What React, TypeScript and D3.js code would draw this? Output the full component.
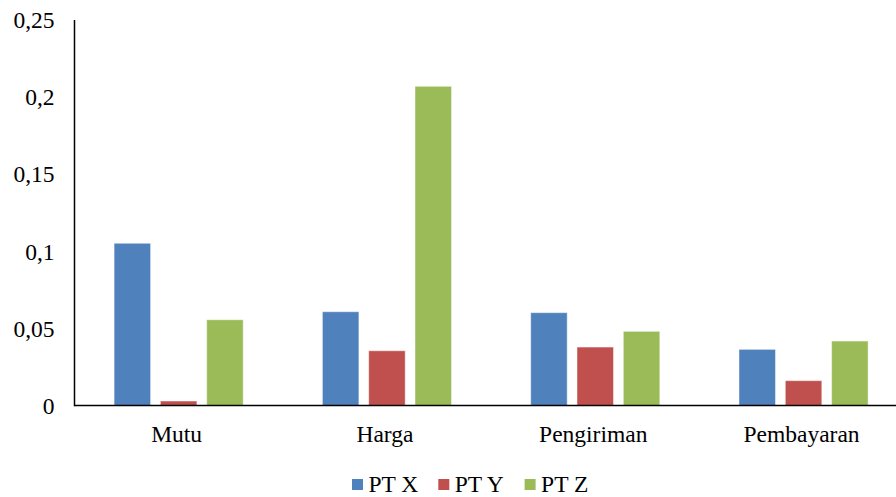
import React from "react";
import * as d3 from "d3";

const categories = ["Mutu", "Harga", "Pengiriman", "Pembayaran"];
const seriesNames = ["PT X", "PT Y", "PT Z"];
const ptX = [0.1052, 0.0608, 0.0602, 0.0364];
const ptY = [0.0029, 0.0355, 0.0379, 0.0161];
const ptZ = [0.0556, 0.207, 0.0481, 0.0418];
const yTicks = [0, 0.05, 0.1, 0.15, 0.2, 0.25];
const colors = ["#4F81BD", "#C0504D", "#9BBB59"];

const W = 896;
const H = 497;
const FONT = "Liberation Serif, Times New Roman, serif";
const FS = 23.5;

export default function App() {
  const values = [ptX, ptY, ptZ];
  const left = 74.5;
  const step = 208.3;
  const x0 = d3.scaleBand<string>().domain(categories).range([left, left + step * categories.length]).padding(0);
  const y = d3.scaleLinear().domain([0, 0.25]).range([405.5, 20]);
  const bw = x0.bandwidth();
  const groupW = 129.1;
  const x1 = d3
    .scaleBand<string>()
    .domain(seriesNames)
    .range([(bw - groupW) / 2, (bw + groupW) / 2])
    .paddingInner(0.212)
    .paddingOuter(0);
  const fmt = (v: number) => (v === 0 ? "0" : String(v).replace(".", ","));

  return (
    <svg width={W} height={H} style={{ position: "absolute", left: 0, top: 0, fontFamily: FONT }}>
      <rect width={W} height={H} fill="#fff" />
      {categories.map((c, ci) => (
        <g key={c} transform={`translate(${x0(c)},0)`}>
          {seriesNames.map((s, si) => {
            const v = values[si][ci];
            return (
              <rect
                key={s}
                x={x1(s)}
                y={y(v)}
                width={x1.bandwidth()}
                height={y(0) - y(v)}
                fill={colors[si]}
                stroke="#fff"
                strokeOpacity={0.45}
                strokeWidth={1}
              />
            );
          })}
          <text x={bw / 2 - 2} y={442} textAnchor="middle" fontSize={FS} fill="#000">
            {c}
          </text>
        </g>
      ))}
      <line x1={left} x2={W} y1={y(0)} y2={y(0)} stroke="#000" strokeWidth={1.5} />
      <line x1={left} x2={left} y1={y(0.25)} y2={y(0) + 0.75} stroke="#000" strokeWidth={1.5} />
      {yTicks.map((t) => (
        <text key={t} x={54.5} y={y(t)} dy="0.35em" textAnchor="end" fontSize={FS} fill="#000">
          {fmt(t)}
        </text>
      ))}
      {seriesNames.map((s, i) => (
        <g key={s} transform={`translate(${352 + i * 86.3},0)`}>
          <rect x={0} y={479} width={11} height={11} fill={colors[i]} />
          <text x={16.5} y={492} fontSize={FS} fill="#000">
            {s}
          </text>
        </g>
      ))}
    </svg>
  );
}
